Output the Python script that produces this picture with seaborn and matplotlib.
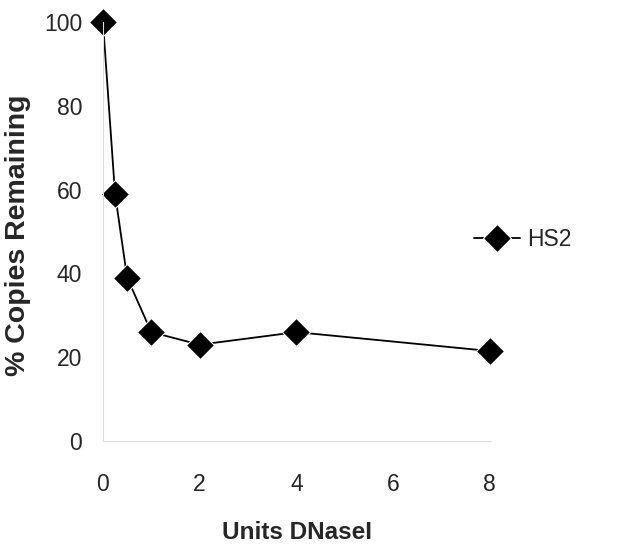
import matplotlib
matplotlib.use("Agg")
import matplotlib.pyplot as plt
import seaborn as sns
import pandas as pd

units = [0, 0.25, 0.5, 1, 2, 4, 8]
hs2 = [100, 59, 39, 26, 23, 26, 21.5]
x_ticks = [0, 2, 4, 6, 8]
y_ticks = [0, 20, 40, 60, 80, 100]

sns.set_style("white")
plt.rcParams['font.family'] = ['Liberation Sans', 'DejaVu Sans']

df = pd.DataFrame({"units": units, "pct": hs2, "series": "HS2"})

fig = plt.figure(figsize=(6.24, 5.5), dpi=100)
ax = fig.add_axes([0.165, 0.198, 0.62, 0.762])
sns.lineplot(data=df, x="units", y="pct", hue="series", palette=["black"],
             marker="D", markersize=14, linewidth=1.3, ax=ax, clip_on=False,
             legend=True)
ax.set_xlim(0, 8)
ax.set_ylim(0, 100)
ax.set_xticks(x_ticks)
ax.set_yticks(y_ticks)
ax.tick_params(axis="y", labelsize=16.5, length=0, pad=15)
ax.tick_params(axis="x", labelsize=16.5, length=0, pad=23)
for s in ["top", "right"]:
    ax.spines[s].set_visible(False)
for s in ["left", "bottom"]:
    ax.spines[s].set_color("#dcdcdc")
    ax.spines[s].set_linewidth(0.8)
ax.set_xlabel("Units DNaseI", fontsize=17.5, fontweight="bold")
ax.xaxis.set_label_coords(0.502, -0.19)
ax.set_ylabel("% Copies Remaining", fontsize=20.5, fontweight="bold")
ax.yaxis.set_label_coords(-0.185, 0.49)
ax.legend(loc="center left", bbox_to_anchor=(0.96, 0.48), frameon=False,
          fontsize=16.5, handlelength=2.0, handletextpad=0.3,
          borderaxespad=0, borderpad=0)
fig.savefig("out.png", dpi=100)
